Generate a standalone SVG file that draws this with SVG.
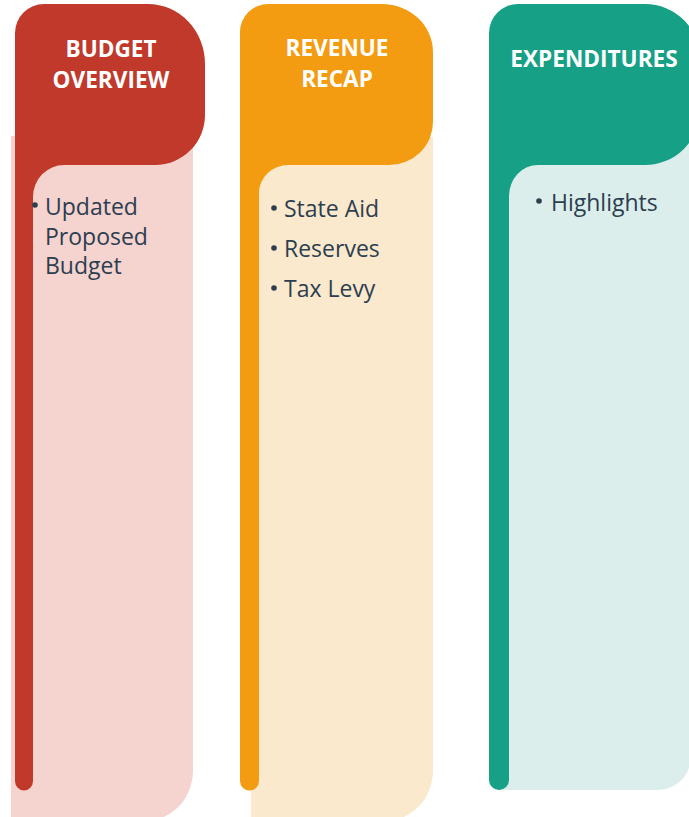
<svg xmlns="http://www.w3.org/2000/svg" width="689" height="817" viewBox="0 0 689 817">
<style>
.title{font-family:"Open Sans","Liberation Sans",sans-serif;font-weight:bold;font-size:22.6px;fill:#ffffff;text-anchor:middle}
.item{font-family:"Open Sans","Liberation Sans",sans-serif;font-size:23px;fill:#2c3e50}
.dot{fill:#2c3e50}
</style>
<rect width="689" height="817" fill="#ffffff"/>
<g id="budget-overview">
<path d="M11,136 H193 V770 A45 50 0 0 1 148 820 H11 Z" fill="#f5d3cf"/>
<path d="M15,33 A29 29 0 0 1 44,4 H148 A57 60 0 0 1 205,64 V115 A50 50 0 0 1 155,165 H64 A31 32 0 0 0 33,197 V781 A9 9.5 0 0 1 15,781 Z" fill="#c0392b"/>
<text class="title" x="111" y="57">BUDGET</text>
<text class="title" x="111" y="88">OVERVIEW</text>
<circle class="dot" cx="35" cy="205" r="2.8"/>
<text class="item" x="45" y="215">Updated</text>
<text class="item" x="45" y="245">Proposed</text>
<text class="item" x="45" y="274">Budget</text>
</g>
<g id="revenue-recap">
<path d="M251,137 H433 V770 A45 50 0 0 1 388 820 H251 Z" fill="#fbe9cd"/>
<path d="M240,32 A28 28 0 0 1 268,4 H382 A51 48 0 0 1 433,52 V122 A44 43 0 0 1 389,165 H288 A29 28 0 0 0 259,193 V781 A9.5 9.5 0 0 1 240,781 Z" fill="#f39c12"/>
<text class="title" x="337" y="56">REVENUE</text>
<text class="title" x="337" y="87">RECAP</text>
<circle class="dot" cx="274" cy="208" r="2.8"/>
<text class="item" x="284" y="217">State Aid</text>
<circle class="dot" cx="274" cy="248" r="2.8"/>
<text class="item" x="284" y="257">Reserves</text>
<circle class="dot" cx="274" cy="288" r="2.8"/>
<text class="item" x="284" y="297">Tax Levy</text>
</g>
<g id="expenditures">
<path d="M500,137 H690 V760 A33 30 0 0 1 657 790 H500 Z" fill="#dbeeeb"/>
<path d="M489,33 A29 29 0 0 1 518,4 H645 A55 55 0 0 1 700,59 V110 A55 55 0 0 1 645,165 H538 A29 31 0 0 0 509,196 V780 A10 10 0 0 1 489,780 Z" fill="#16a085"/>
<text class="title" x="594" y="67">EXPENDITURES</text>
<circle class="dot" cx="539" cy="201" r="2.8"/>
<text class="item" x="551" y="211">Highlights</text>
</g>
<g id="connectors"/>
</svg>
